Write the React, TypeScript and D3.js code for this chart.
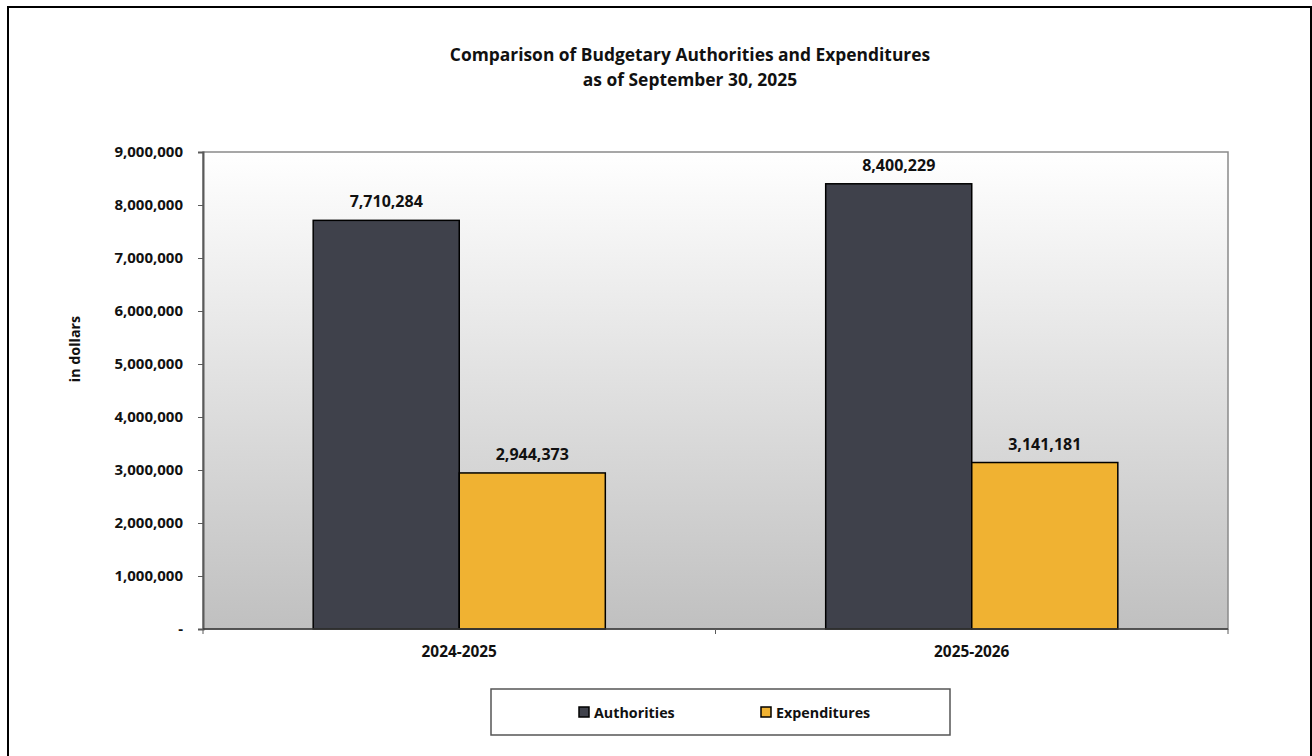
import React, { useEffect, useMemo, useRef } from "react";
import * as d3 from "d3";

const WIDTH = 1312;
const HEIGHT = 756;
const PLOT = { left: 203, right: 1228, top: 152, bottom: 629 };
const FONT = "'Open Sans', Lato, sans-serif";

const categories = ["2024-2025", "2025-2026"];
const series = ["Authorities", "Expenditures"];
const authorities = [7710284, 8400229];
const expenditures = [2944373, 3141181];
const yTicks = [0, 1000000, 2000000, 3000000, 4000000, 5000000, 6000000, 7000000, 8000000, 9000000];
const colors = ["#3f414b", "#f0b232"];

const fmt = d3.format(",");

const App = () => {
  const yAxisRef = useRef<SVGGElement>(null);
  const xAxisRef = useRef<SVGGElement>(null);

  const xScale = useMemo(
    () => d3.scaleBand<string>().domain(categories).range([PLOT.left, PLOT.right]).padding(0),
    []
  );
  const yScale = useMemo(
    () => d3.scaleLinear().domain([0, 9000000]).range([PLOT.bottom, PLOT.top]),
    []
  );
  // each group takes about 57% of its band (Excel gap width ~150%)
  const groupWidth = xScale.bandwidth() * 0.57;
  const subScale = useMemo(
    () => d3.scaleBand<string>().domain(series).range([0, groupWidth]).padding(0),
    [groupWidth]
  );

  useEffect(() => {
    const yg = d3.select(yAxisRef.current);
    yg.selectAll("*").remove();
    yg.call(
      d3
        .axisLeft(yScale)
        .tickValues(yTicks)
        .tickSize(5)
        .tickPadding(15)
        .tickFormat((d) => (+d === 0 ? "-" : fmt(+d)))
    );
    yg.select(".domain").attr("stroke", "#5a5a5a").attr("stroke-width", 2);
    yg.selectAll(".tick line").attr("stroke", "#5a5a5a");
    yg.selectAll(".tick text")
      .attr("font-family", FONT)
      .attr("font-size", 15)
      .attr("font-weight", "bold")
      .attr("fill", "#111");

    const xg = d3.select(xAxisRef.current);
    xg.selectAll("*").remove();
    const boundaries = [PLOT.left, PLOT.left + xScale.bandwidth(), PLOT.right];
    xg.append("line")
      .attr("x1", PLOT.left)
      .attr("x2", PLOT.right)
      .attr("y1", PLOT.bottom)
      .attr("y2", PLOT.bottom)
      .attr("stroke", "#3a3a3a")
      .attr("stroke-width", 1.5);
    xg.selectAll("line.tick")
      .data(boundaries)
      .join("line")
      .attr("class", "tick")
      .attr("x1", (d) => d)
      .attr("x2", (d) => d)
      .attr("y1", PLOT.bottom)
      .attr("y2", PLOT.bottom + 5)
      .attr("stroke", "#5a5a5a");
    xg.selectAll("text")
      .data(categories)
      .join("text")
      .attr("x", (d) => (xScale(d) ?? 0) + xScale.bandwidth() / 2)
      .attr("y", 657)
      .attr("text-anchor", "middle")
      .attr("font-family", FONT)
      .attr("font-size", 15.4)
      .attr("font-weight", "bold")
      .attr("fill", "#111")
      .text((d) => d);
  }, [xScale, yScale]);

  const bars = categories.flatMap((cat, i) => {
    const groupX = (xScale(cat) ?? 0) + (xScale.bandwidth() - groupWidth) / 2;
    const values = [authorities[i], expenditures[i]];
    return values.map((v, j) => {
      const x = groupX + (subScale(series[j]) ?? 0);
      const y = yScale(v);
      return (
        <g key={`${cat}_${j}`}>
          <rect
            x={x}
            y={y}
            width={subScale.bandwidth()}
            height={PLOT.bottom - y}
            fill={colors[j]}
            stroke="#000"
            strokeWidth={1.5}
          />
          <text
            x={x + subScale.bandwidth() / 2}
            y={y - 13}
            textAnchor="middle"
            fontFamily={FONT}
            fontSize={16}
            fontWeight="bold"
            fill="#111"
          >
            {fmt(v)}
          </text>
        </g>
      );
    });
  });

  const legendItems = [
    { x: 579, label: series[0], color: colors[0] },
    { x: 761, label: series[1], color: colors[1] },
  ];

  return (
    <div style={{ position: "fixed", left: 0, top: 0 }}>
      <svg width={WIDTH} height={HEIGHT} style={{ display: "block", background: "#fff" }}>
        <defs>
          <linearGradient id="plotBg" x1="0" y1="0" x2="0" y2="1">
            <stop offset="0%" stopColor="#ffffff" />
            <stop offset="100%" stopColor="#c0c0c0" />
          </linearGradient>
        </defs>
        <rect x={8} y={7} width={1303} height={800} fill="#fff" stroke="#000" strokeWidth={2} />

        <text x={690} y={61} textAnchor="middle" fontFamily={FONT} fontSize={17.4} fontWeight="bold" fill="#111">
          Comparison of Budgetary Authorities and Expenditures
        </text>
        <text x={690} y={86} textAnchor="middle" fontFamily={FONT} fontSize={17.4} fontWeight="bold" fill="#111">
          as of September 30, 2025
        </text>

        <rect
          x={PLOT.left}
          y={PLOT.top}
          width={PLOT.right - PLOT.left}
          height={PLOT.bottom - PLOT.top}
          fill="url(#plotBg)"
          stroke="#8a8a8a"
          strokeWidth={1.5}
        />

        {bars}

        <g ref={yAxisRef} transform={`translate(${PLOT.left},0)`} />
        <g ref={xAxisRef} />

        <text
          transform={`translate(80,349) rotate(-90)`}
          textAnchor="middle"
          fontFamily={FONT}
          fontSize={14.3}
          fontWeight="bold"
          fill="#111"
        >
          in dollars
        </text>

        <rect x={491} y={689} width={459} height={46} fill="#fff" stroke="#555" strokeWidth={1.5} />
        {legendItems.map((d) => (
          <g key={d.label}>
            <rect x={d.x} y={707} width={10} height={10} fill={d.color} stroke="#000" strokeWidth={1.5} />
            <text x={d.x + 15} y={718} fontFamily={FONT} fontSize={14.3} fontWeight="bold" fill="#111">
              {d.label}
            </text>
          </g>
        ))}
      </svg>
    </div>
  );
};

export default App;
